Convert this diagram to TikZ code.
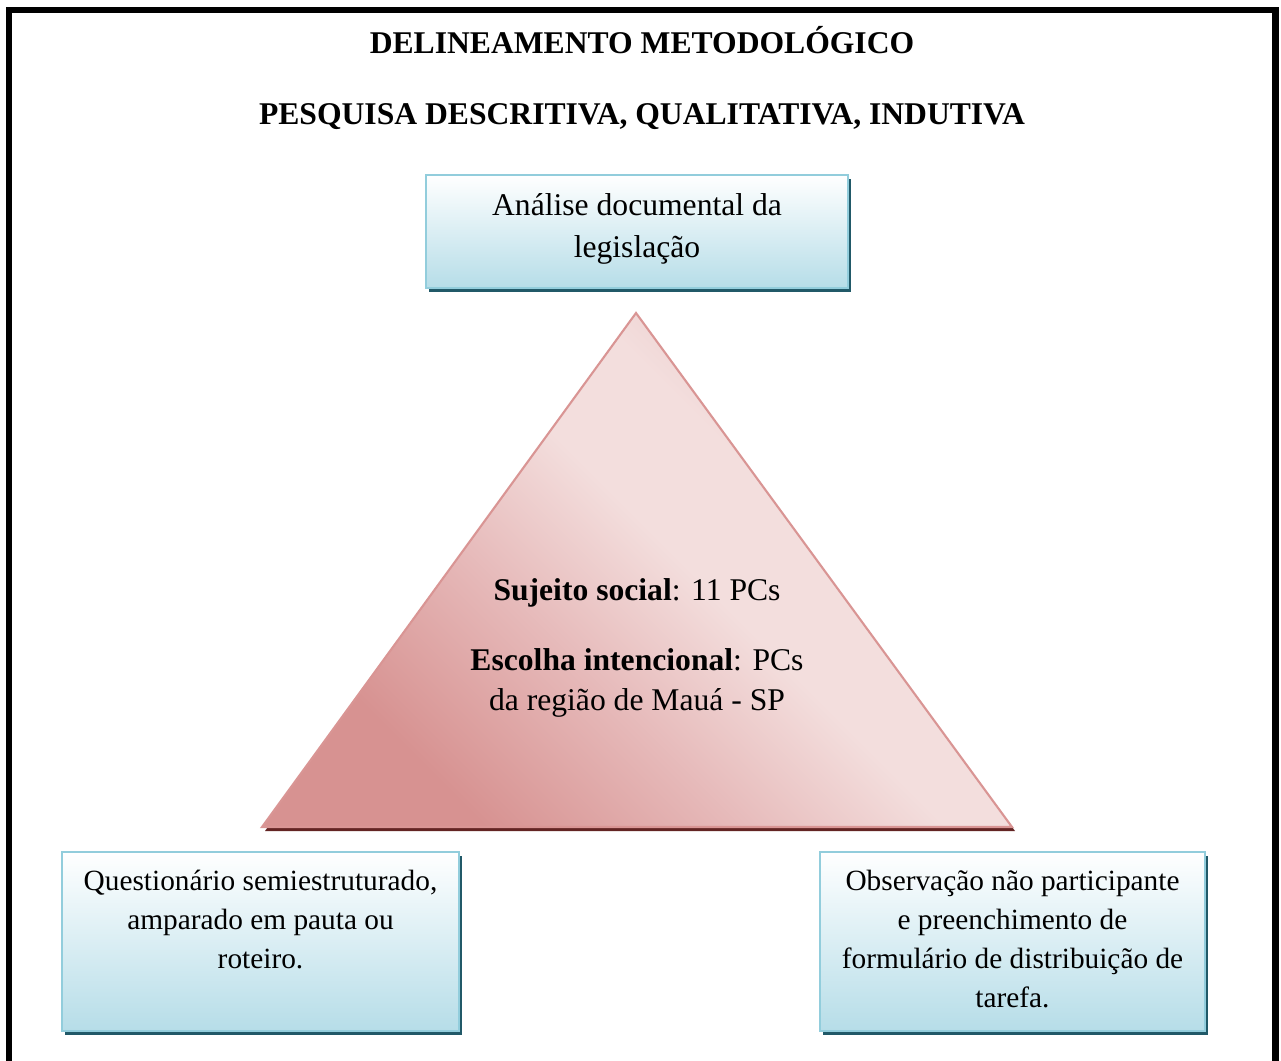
\documentclass[tikz,border=0pt]{standalone}
\usepackage{fontspec}
\setmainfont{Liberation Serif}
\usetikzlibrary{positioning,shadows}

\definecolor{boxline}{RGB}{146,205,220}
\definecolor{boxfill}{RGB}{182,221,232}
\definecolor{boxshade}{RGB}{33,89,104}
\definecolor{triline}{RGB}{217,149,148}
\definecolor{tridark}{RGB}{215,146,145}
\definecolor{trirose}{RGB}{230,185,185}
\definecolor{trilight}{RGB}{243,222,221}
\definecolor{trimid}{RGB}{231,192,192}
\definecolor{trishade}{RGB}{99,36,35}

\pgfdeclarehorizontalshading{trigrad}{100bp}{color(0bp)=(tridark); color(27bp)=(tridark); color(41bp)=(trirose); color(53bp)=(trilight); color(62bp)=(trilight); color(74bp)=(trimid); color(100bp)=(trimid)}

\begin{document}
\begin{tikzpicture}[x=0.02cm,y=-0.02cm]
	\tikzstyle{title} = [font=\fontsize{18}{22}\selectfont\bfseries, inner sep=0pt]
	\tikzstyle{block} = [draw=boxline, line width=1.2pt, top color=white, bottom color=boxfill, inner sep=0pt, drop shadow={opacity=1, fill=boxshade, shadow xshift=0.06cm, shadow yshift=-0.08cm}]
	\tikzstyle{txt} = [align=center, inner sep=0pt, font=\fontsize{18}{22}\selectfont]
	\tikzstyle{smalltxt} = [txt, font=\fontsize{16.7}{22.2}\selectfont]

	\useasboundingbox (0,0) rectangle (1281,1061);
	% frame, open at the bottom
	\draw[line width=3.7pt] (9,1075) -- (9,10) -- (1275.5,10) -- (1275.5,1075);

	\node [title, anchor=base] (head) at (642,53.5) {DELINEAMENTO METODOLÓGICO};
	\node [title, below=1.42cm of head.base, anchor=base] (sub) {PESQUISA DESCRITIVA, QUALITATIVA, INDUTIVA};

	\node [block, minimum width=8.44cm, minimum height=2.26cm] (doc) at (637,231.5) {};
	\node [txt, font=\fontsize{18}{24}\selectfont] (doctxt) at (637,229) {Análise documental da\\legislação};

	% triangle
	\coordinate (apex) at (636,313);
	\coordinate (bl) at (262,827);
	\coordinate (br) at (1012,827);
	\draw [draw=triline, line width=1.2pt, shade, shading=trigrad, shading angle=45,
		drop shadow={opacity=1, fill=trishade, shadow xshift=0.06cm, shadow yshift=-0.08cm}] (apex) -- (bl) -- (br) -- cycle;
	\node [txt, font=\fontsize{18}{23.3}\selectfont] (subj) at (637,648) {\textbf{Sujeito social}: 11 PCs\\[16.5pt]\textbf{Escolha intencional}: PCs\\da região de Mauá - SP};

	\node [block, minimum width=7.94cm, minimum height=3.58cm] (quest) at (260.5,941.5) {};
	\node [smalltxt, below=0.38cm of quest.north] (questtxt) {Questionário semiestruturado,\\amparado em pauta ou\\roteiro.};

	\node [block, minimum width=7.7cm, minimum height=3.58cm] (obs) at (1012.5,941.5) {};
	\node [smalltxt, below=0.38cm of obs.north] (obstxt) {Observação não participante\\e preenchimento de\\formulário de distribuição de\\tarefa.};

\end{tikzpicture}
\end{document}
